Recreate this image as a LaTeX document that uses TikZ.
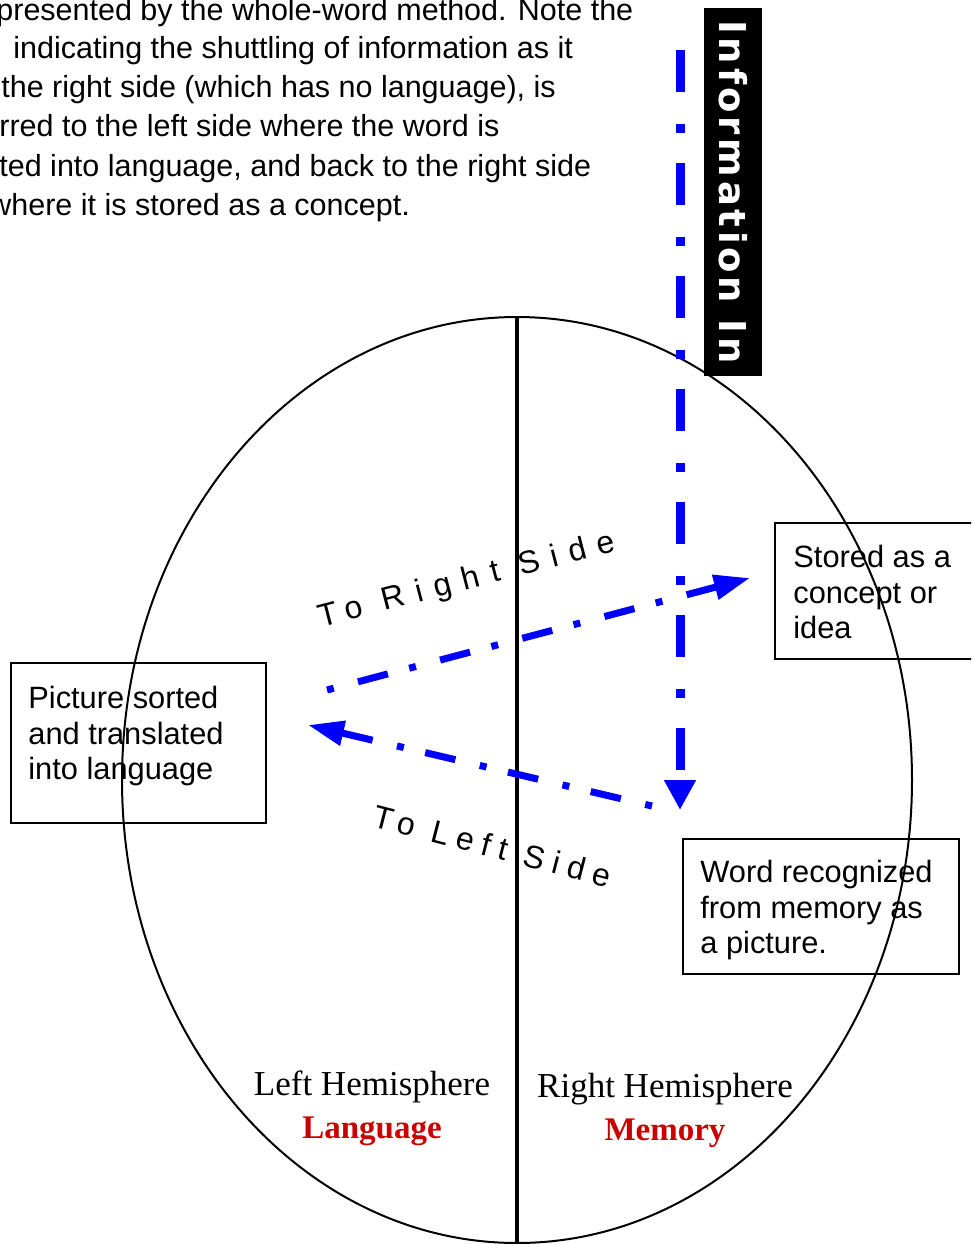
\documentclass[tikz,border=0pt]{standalone}
\usepackage{fontspec}
\setmainfont{Liberation Sans}
\newfontfamily\hemifont{Liberation Serif}
\newfontfamily\tagfont{DejaVu Sans}
\usetikzlibrary{arrows.meta}
\definecolor{memred}{RGB}{204,0,0}

\begin{document}
\begin{tikzpicture}[x=0.5pt,y=-0.5pt,
    boxframe/.style={draw,line width=1.2pt,anchor=north west,inner sep=0pt},
    boxtext/.style={anchor=north west,inner sep=0pt,align=left,font=\fontsize{15.4}{17.75}\selectfont},
    sidetext/.style={anchor=base,inner sep=0pt,font=\fontsize{16}{18}\selectfont},
    hemi/.style={anchor=base,inner sep=0pt,font=\hemifont\fontsize{17.5}{20}\selectfont},
    hemitag/.style={anchor=base,inner sep=0pt,text=memred,font=\hemifont\bfseries\fontsize{16.5}{20}\selectfont},
    inflow/.style={blue,line width=4.5pt,dash pattern=on 21pt off 16pt on 4.5pt off 15pt,
        -{Triangle[length=15pt,width=15pt]}},
    shuttle/.style={blue,line width=3.5pt,dash pattern=on 3.5pt off 12.5pt on 15.5pt off 11pt,
        -{Triangle[length=18pt,width=12pt]}}]
    \useasboundingbox (0,0) rectangle (971,1244);
    \clip (0,0) rectangle (971,1244);
    % Caption lines (cut at the left edge)
    \foreach \x/\y/\line in {-4/20/{presented by the whole-word method. Note the},
                             13/58/{indicating the shuttling of information as it},
                             1/97/{the right side (which has no language), is},
                             -1/136/{rred to the left side where the word is},
                             -1/176/{ted into language, and back to the right side},
                             -11/215/{where it is stored as a concept.}} {
        \node[anchor=base west,inner sep=0pt,font=\fontsize{15.25}{19.5}\selectfont] at (\x,\y) {\line};
    }
    % Brain outline and midline
    \draw[line width=1pt] (517,780) ellipse [x radius=395, y radius=463];
    \draw[line width=2pt] (517,318) -- (517,1260);
    % Boxes
    \node[boxframe,minimum width=127.5pt,minimum height=80pt] (sortbox) at (10,662) {};
    \node[boxtext] (sorttext) at (28,686) {Picture sorted\\and translated\\into language};
    \node[boxframe,minimum width=120pt,minimum height=68pt] (storebox) at (774,522) {};
    \node[boxtext] (storetext) at (793,545) {Stored as a\\concept or\\idea};
    \node[boxframe,minimum width=138pt,minimum height=67.5pt] (wordbox) at (682,838) {};
    \node[boxtext] (wordtext) at (700,860) {Word recognized\\from memory as\\a picture.};
    % Information tag
    \node[fill=black,text=white,rotate=-90,minimum width=184pt,minimum height=29pt,inner sep=0pt,
          font=\tagfont\bfseries\fontsize{18.5}{20}\selectfont\addfontfeature{LetterSpace=10}]
          (infoin) at (733,192) {Information In};
    % Arrows
    \coordinate (inTop) at (680,50);
    \coordinate (inTip) at (680,810);
    \coordinate (rightStart) at (327,690);
    \coordinate (rightTip) at (750,578);
    \coordinate (leftStart) at (652,806);
    \coordinate (leftTip) at (308,725);
    \draw[inflow] (inTop) -- (inTip);
    \draw[shuttle] (rightStart) -- (rightTip);
    \draw[shuttle] (leftStart) -- (leftTip);
    % Arrow labels
    \node[sidetext,rotate=14.5] (toright) at (469,589) {\addfontfeature{LetterSpace=36}To Right Side};
    \node[sidetext,rotate=-14.5] (toleft) at (490,857) {\addfontfeature{LetterSpace=26}To Left Side};
    % Hemisphere labels
    \node[hemi] (lefthemi) at (372,1095) {Left Hemisphere};
    \node[hemitag] (lefttag) at (372,1138) {Language};
    \node[hemi] (righthemi) at (665,1097) {Right Hemisphere};
    \node[hemitag] (righttag) at (665,1140) {Memory};
\end{tikzpicture}
\end{document}
